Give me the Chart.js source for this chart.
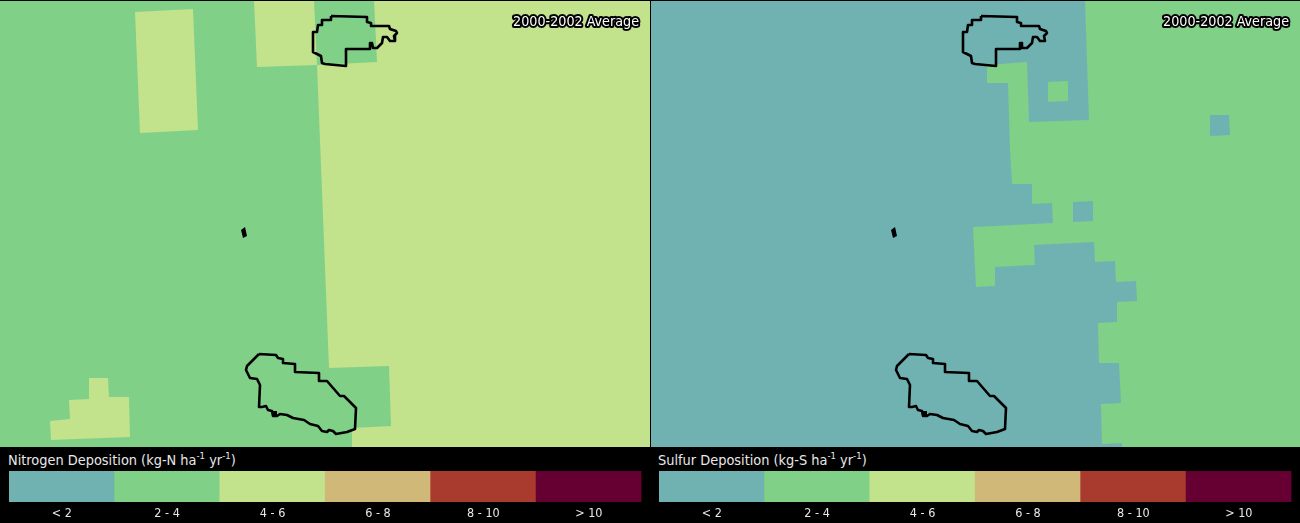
<!DOCTYPE html>
<html>
<head>
<meta charset="utf-8">
<script src="https://cdn.jsdelivr.net/npm/chart.js@4"></script>
<style>
    html, body { margin: 0; padding: 0; background: #000; overflow: hidden; }
    body { position: relative; width: 1300px; height: 523px; font-family: "DejaVu Sans Condensed", "DejaVu Sans", sans-serif; }
    canvas { position: absolute; display: block; }
    .bar-title { position: absolute; top: 451px; color: #e8e8e8; font-size: 14.4px; line-height: 18px; white-space: nowrap; }
    .bar-title sup { font-size: 9.5px; line-height: 0; }
</style>
</head>
<body>
<canvas id="mapN" width="650" height="446" style="left:0;top:1px"></canvas>
<canvas id="mapS" width="649" height="446" style="left:651px;top:1px"></canvas>
<div class="bar-title" style="left:8px">Nitrogen Deposition (kg-N ha<sup>-1</sup> yr<sup>-1</sup>)</div>
<div class="bar-title" style="left:658px">Sulfur Deposition (kg-S ha<sup>-1</sup> yr<sup>-1</sup>)</div>
<canvas id="barN" width="650" height="76" style="left:0;top:447px"></canvas>
<canvas id="barS" width="650" height="76" style="left:650px;top:447px"></canvas>
<script>
const binLabels = ['< 2', '2 - 4', '4 - 6', '6 - 8', '8 - 10', '> 10']
const binBand = [1, 1, 1, 1, 1, 1]
const binColors = ['#70b2b2', '#80d088', '#c2e28c', '#d0b878', '#a83a2e', '#660033']
const periodLabel = '2000-2002 Average'

// map outlines, same place on both maps
const northPark = [[331,16],[367,17],[367,22],[371,23],[371,26],[389,26],[390,29],[396,31],[397,33],[394,36],[395,41],[390,41],[387,37],[383,37],[382,43],[377,48],[373,48],[372,43],[370,43],[370,49],[346,49],[346,66],[325,64],[322,63],[321,56],[313,52],[313,32],[317,32],[318,25],[322,25],[322,20],[331,20]]
const southPark = [[259,354],[276,355],[278,358],[283,359],[283,363],[295,364],[295,372],[319,373],[319,381],[327,381],[340,396],[344,396],[356,408],[355,429],[347,432],[336,434],[333,431],[329,430],[327,432],[322,431],[318,426],[310,424],[304,420],[293,418],[287,415],[280,414],[277,416],[273,416],[272,411],[268,410],[266,406],[262,407],[259,407],[260,385],[257,379],[250,378],[246,370],[247,366]]
const islet = [[241,230],[245,227],[247,236],[243,238]]
const southParkDot = [[273,411],[277,411],[277,416],[273,416]]

// nitrogen map cells
const nFull = [[0,0],[650,0],[650,447],[0,447]]
const nMidBand = [[0,0],[254,0],[257,67],[317,65],[329,368],[389,366],[391,426],[352,428],[352,447],[0,447]]
const nMidTop = [[314,0],[374,0],[377,62],[317,65]]
const nNorthWest = [[135,12],[193,9],[198,130],[140,133]]
const nSouthWest = [[50,421],[70,419],[69,400],[89,399],[89,378],[108,378],[109,397],[129,397],[130,437],[51,440]]

// sulfur map cells
const sFull = [[1,0],[650,0],[650,447],[1,447]]
const sLow = [[1,0],[435,0],[439,120],[379,122],[377,62],[337,65],[337,83],[358,83],[360,150],[362,184],[382,184],[382,204],[402,203],[403,223],[323,227],[326,287],[345,286],[345,267],[385,265],[384,245],[444,242],[445,262],[465,261],[466,282],[486,281],[487,301],[467,302],[467,322],[448,323],[449,363],[469,363],[471,403],[451,404],[452,444],[472,443],[472,447],[1,447]]
const sCellA = [[398,82],[418,81],[418,101],[398,102]]
const sCellB = [[560,115],[579,115],[580,135],[560,136]]
const sCellC = [[423,202],[443,201],[443,221],[423,222]]

const toPoints = (ring) => ring.concat([ring[0]]).map(p => ({ x: p[0], y: p[1] }))

const cell = (ring, color) => ({
    data: toPoints(ring),
    showLine: true,
    pointRadius: 0,
    borderWidth: 0,
    borderColor: 'transparent',
    backgroundColor: color,
    fill: 'shape',
})

const outline = (ring) => ({
    data: toPoints(ring),
    showLine: true,
    pointRadius: 0,
    borderWidth: 2.6,
    borderColor: '#000',
    borderJoinStyle: 'round',
    fill: false,
})

// draws the period label with its black halo in the top right corner
const periodPlugin = {
    id: 'period',
    afterDraw(chart) {
        const c = chart.ctx
        c.save()
        c.font = '14.2px "DejaVu Sans Condensed", "DejaVu Sans", sans-serif'
        c.textAlign = 'right'
        c.textBaseline = 'middle'
        c.lineJoin = 'round'
        c.lineWidth = 4
        c.strokeStyle = '#000'
        c.fillStyle = '#fff'
        c.strokeText(periodLabel, chart.chartArea.right - 11, 21)
        c.fillText(periodLabel, chart.chartArea.right - 11, 21)
        c.restore()
    }
}

const drawMap = (id, xMin, layers) => {
    // first layer goes at the bottom
    layers.forEach((d, i) => { d.order = layers.length - i })
    new Chart(document.getElementById(id), {
        type: 'scatter',
        data: { datasets: layers },
        options: {
            responsive: false,
            animation: false,
            events: [],
            layout: { padding: 0 },
            plugins: { legend: { display: false }, tooltip: { enabled: false } },
            scales: {
                x: { type: 'linear', min: xMin, max: 650, display: false },
                y: { type: 'linear', min: 1, max: 447, reverse: true, display: false },
            },
        },
        plugins: [periodPlugin],
    })
}

const drawBar = (id) => {
    new Chart(document.getElementById(id), {
        type: 'bar',
        data: {
            labels: binLabels,
            datasets: [{
                data: binBand,
                backgroundColor: binColors,
                barPercentage: 1,
                categoryPercentage: 1,
                borderWidth: 0,
            }],
        },
        options: {
            responsive: false,
            animation: false,
            events: [],
            layout: { padding: { left: 9, right: 8.5, top: 24, bottom: 0 } },
            plugins: { legend: { display: false }, tooltip: { enabled: false } },
            scales: {
                x: {
                    grid: { display: false, drawTicks: false },
                    border: { display: false },
                    ticks: {
                        color: '#e8e8e8',
                        padding: 4,
                        maxRotation: 0,
                        autoSkip: false,
                        font: { family: '"DejaVu Sans Condensed", "DejaVu Sans", sans-serif', size: 12.5 },
                    },
                    afterFit(axis) { axis.height = 21 },
                },
                y: { min: 0, max: 1, display: false },
            },
        },
    })
}

drawMap('mapN', 0, [
    cell(nFull, binColors[2]),
    cell(nMidBand, binColors[1]),
    cell(nMidTop, binColors[1]),
    cell(nNorthWest, binColors[2]),
    cell(nSouthWest, binColors[2]),
    outline(northPark),
    outline(southPark),
    cell(islet, '#000'),
    cell(southParkDot, '#000'),
])

drawMap('mapS', 1, [
    cell(sFull, binColors[1]),
    cell(sLow, binColors[0]),
    cell(sCellA, binColors[1]),
    cell(sCellB, binColors[0]),
    cell(sCellC, binColors[0]),
    outline(northPark),
    outline(southPark),
    cell(islet, '#000'),
    cell(southParkDot, '#000'),
])

drawBar('barN')
drawBar('barS')
</script>
</body>
</html>
